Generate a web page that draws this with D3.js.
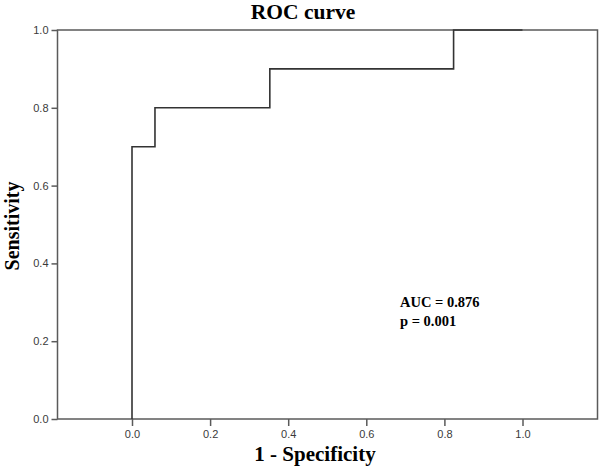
<!DOCTYPE html>
<html>
<head>
<meta charset="utf-8">
<script src="https://cdn.jsdelivr.net/npm/d3@7"></script>
<style>
  body { margin: 0; background: #fff; }
  svg { display: block; }
</style>
</head>
<body>
<svg id="chart" width="600" height="468"></svg>
<script>
// ROC step curve (17 negatives, 10 positives)
var fpr = [0, 0, 1/17, 1/17, 6/17, 6/17, 14/17, 14/17, 1]
var tpr = [0, 0.7, 0.7, 0.8, 0.8, 0.9, 0.9, 1, 1]
var ticks = [0, 0.2, 0.4, 0.6, 0.8, 1.0]
var notes = ["AUC = 0.876", "p = 0.001"]

var svg = d3.select("#chart")

// frame edges in pixels
var frameL = 57.5, frameR = 597.5, frameT = 30, frameB = 419

var x = d3.scaleLinear().domain([0, 1]).range([132, 522.5])
var y = d3.scaleLinear().domain([0, 1]).range([frameB, frameT])

var frameColor = "#5a5a5a"

// plot frame
svg.append("rect")
    .attr("x", frameL)
    .attr("y", frameT)
    .attr("width", frameR - frameL)
    .attr("height", frameB - frameT)
    .attr("fill", "none")
    .attr("stroke", frameColor)
    .attr("stroke-width", 1.5)

// y axis
let yAxis = d3.axisLeft(y)
    .tickValues(ticks)
    .tickSize(6)
    .tickPadding(3)
    .tickFormat(d3.format(".1f"))

let gy = svg.append("g")
    .attr("transform", "translate(" + frameL + ",0)")
    .call(yAxis)
gy.select(".domain").remove()

// x axis
let xAxis = d3.axisBottom(x)
    .tickValues(ticks)
    .tickSize(7)
    .tickPadding(4)
    .tickFormat(d3.format(".1f"))

let gx = svg.append("g")
    .attr("transform", "translate(0," + frameB + ")")
    .call(xAxis)
gx.select(".domain").remove()

svg.selectAll(".tick line")
    .attr("stroke", frameColor)
    .attr("stroke-width", 1.5)
svg.selectAll(".tick text")
    .attr("fill", "#3a3a3a")
    .style("font-family", "'Liberation Sans', Arial, sans-serif")
    .style("font-size", "11px")

// the curve
let points = fpr.map((d, i) => ({x: d, y: tpr[i]}))
let line = d3.line()
    .x((d) => x(d.x))
    .y((d) => y(d.y))

svg.append("path")
    .datum(points)
    .attr("d", line)
    .attr("fill", "none")
    .attr("stroke", "#333")
    .attr("stroke-width", 1.6)

var serif = "'Liberation Serif', 'Times New Roman', serif"

// title and axis titles
svg.append("text")
    .attr("x", 303)
    .attr("y", 19)
    .attr("text-anchor", "middle")
    .style("font-family", serif)
    .style("font-weight", "bold")
    .style("font-size", "21.5px")
    .text("ROC curve")

svg.append("text")
    .attr("x", 315)
    .attr("y", 461)
    .attr("text-anchor", "middle")
    .style("font-family", serif)
    .style("font-weight", "bold")
    .style("font-size", "21px")
    .text("1 - Specificity")

svg.append("text")
    .attr("transform", "translate(19,226) rotate(-90)")
    .attr("text-anchor", "middle")
    .style("font-family", serif)
    .style("font-weight", "bold")
    .style("font-size", "20px")
    .text("Sensitivity")

// annotation
svg.selectAll(".note")
    .data(notes)
    .enter()
    .append("text")
    .classed("note", true)
    .attr("x", 400)
    .attr("y", (d, i) => 307 + i * 19)
    .style("font-family", serif)
    .style("font-weight", "bold")
    .style("font-size", "14.5px")
    .text((d) => d)
</script>
</body>
</html>
